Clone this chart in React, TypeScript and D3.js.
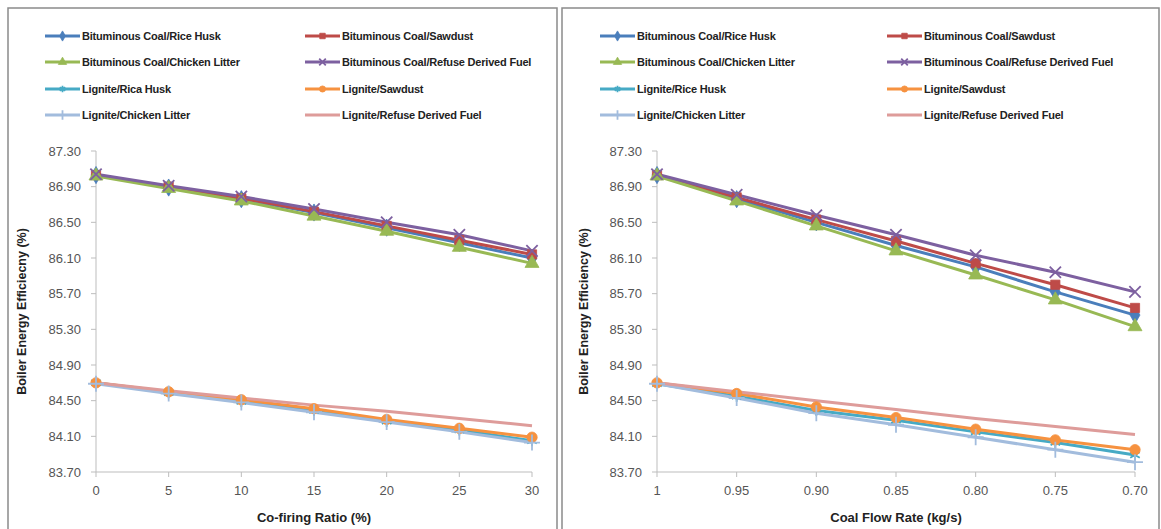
import React from "react";
import * as d3 from "d3";

const seriesNames = [
  "Bituminous Coal/Rice Husk",
  "Bituminous Coal/Sawdust",
  "Bituminous Coal/Chicken Litter",
  "Bituminous Coal/Refuse Derived Fuel",
  "Lignite/Rice Husk",
  "Lignite/Sawdust",
  "Lignite/Chicken Litter",
  "Lignite/Refuse Derived Fuel",
];
const legendNamesLeft = [
  "Bituminous Coal/Rice Husk",
  "Bituminous Coal/Sawdust",
  "Bituminous Coal/Chicken Litter",
  "Bituminous Coal/Refuse Derived Fuel",
  "Lignite/Rica Husk",
  "Lignite/Sawdust",
  "Lignite/Chicken Litter",
  "Lignite/Refuse Derived Fuel",
];

// Left chart: co-firing ratio
const cofiringRatio = [0, 5, 10, 15, 20, 25, 30];
const leftBcRiceHusk = [87.03, 86.89, 86.76, 86.61, 86.44, 86.27, 86.1];
const leftBcSawdust = [87.03, 86.9, 86.77, 86.62, 86.46, 86.3, 86.14];
const leftBcChicken = [87.02, 86.88, 86.74, 86.57, 86.4, 86.22, 86.04];
const leftBcRdf = [87.04, 86.91, 86.79, 86.65, 86.5, 86.36, 86.18];
const leftLgRiceHusk = [84.7, 84.59, 84.49, 84.39, 84.27, 84.17, 84.05];
const leftLgSawdust = [84.7, 84.6, 84.51, 84.41, 84.29, 84.19, 84.09];
const leftLgChicken = [84.69, 84.58, 84.48, 84.37, 84.26, 84.15, 84.03];
const leftLgRdf = [84.7, 84.61, 84.53, 84.45, 84.38, 84.3, 84.22];

// Right chart: coal flow rate
const coalFlowRate = ["1", "0.95", "0.90", "0.85", "0.80", "0.75", "0.70"];
const rightBcRiceHusk = [87.03, 86.76, 86.5, 86.24, 86.0, 85.72, 85.46];
const rightBcSawdust = [87.03, 86.78, 86.53, 86.29, 86.04, 85.8, 85.54];
const rightBcChicken = [87.02, 86.74, 86.46, 86.18, 85.91, 85.63, 85.33];
const rightBcRdf = [87.04, 86.81, 86.58, 86.36, 86.13, 85.94, 85.72];
const rightLgRiceHusk = [84.69, 84.55, 84.39, 84.28, 84.15, 84.03, 83.89];
const rightLgSawdust = [84.7, 84.58, 84.43, 84.31, 84.18, 84.06, 83.95];
const rightLgChicken = [84.69, 84.53, 84.36, 84.23, 84.09, 83.95, 83.81];
const rightLgRdf = [84.7, 84.6, 84.5, 84.4, 84.3, 84.21, 84.12];

const yTicks = [83.7, 84.1, 84.5, 84.9, 85.3, 85.7, 86.1, 86.5, 86.9, 87.3];

const colors = ["#4A7EBB", "#BE4B48", "#98B954", "#7D60A0", "#46AAC5", "#F69240", "#A2BCDD", "#DE9C9A"];
const symbols: (d3.SymbolType | null)[] = [
  d3.symbolDiamond,
  d3.symbolSquare,
  d3.symbolTriangle,
  d3.symbolTimes,
  d3.symbolAsterisk,
  d3.symbolCircle,
  d3.symbolPlus,
  null,
];
const filled = [true, true, true, false, false, true, false, false];

const FONT = "'Liberation Sans', Arial, sans-serif";

function Marker({ i, x, y, size }: { i: number; x: number; y: number; size: number }) {
  const s = symbols[i];
  if (!s) return null;
  const path = d3.symbol(s, size)() || "";
  return (
    <path
      d={path}
      transform={`translate(${x},${y})`}
      fill={filled[i] ? colors[i] : "none"}
      stroke={colors[i]}
      strokeWidth={filled[i] ? 0.8 : 1.8}
    />
  );
}

function Legend({ x1, x2, names }: { x1: number; x2: number; names: string[] }) {
  const rows = [36, 62, 89, 115];
  return (
    <g>
      {names.map((n, i) => {
        const col = i % 2;
        const row = Math.floor(i / 2);
        const lx = col === 0 ? x1 : x2;
        const y = rows[row];
        return (
          <g key={i}>
            <line x1={lx} x2={lx + 35} y1={y} y2={y} stroke={colors[i]} strokeWidth={3} />
            <Marker i={i} x={lx + 17.5} y={y} size={30} />
            <text x={lx + 37} y={y + 4} fontFamily={FONT} fontSize={11} fontWeight={700} fill="#222" letterSpacing={-0.2}>
              {n}
            </text>
          </g>
        );
      })}
    </g>
  );
}

function Panel({
  px,
  pw,
  xPos,
  xLabels,
  data,
  legendX1,
  legendX2,
  legendNames,
  yTitle,
  yTitleX,
  xTitle,
}: {
  px: number;
  pw: number;
  xPos: number[];
  xLabels: string[];
  data: number[][];
  legendX1: number;
  legendX2: number;
  legendNames: string[];
  yTitle: string;
  yTitleX: number;
  xTitle: string;
}) {
  const y = d3.scaleLinear().domain([83.7, 87.3]).range([472, 151]);
  const axisX = xPos[0];
  const axisEnd = xPos[xPos.length - 1];
  const line = d3
    .line<number>()
    .x((_, i) => xPos[i])
    .y((v) => y(v));
  return (
    <g>
      <rect x={px} y={8} width={pw} height={540} fill="#fff" stroke="#8a8a8a" strokeWidth={1.5} />
      <Legend x1={legendX1} x2={legendX2} names={legendNames} />
      {/* y axis */}
      <line x1={axisX} x2={axisX} y1={y(87.3)} y2={y(83.7)} stroke="#bdbdbd" strokeWidth={1} />
      {yTicks.map((t) => (
        <g key={t}>
          <line x1={axisX - 5} x2={axisX} y1={y(t)} y2={y(t)} stroke="#bdbdbd" />
          <text x={axisX - 15} y={y(t) + 4.5} textAnchor="end" fontFamily={FONT} fontSize={13} fill="#555">
            {t.toFixed(2)}
          </text>
        </g>
      ))}
      {/* x axis */}
      <line x1={axisX} x2={axisEnd} y1={y(83.7)} y2={y(83.7)} stroke="#bdbdbd" />
      {xPos.map((xp, i) => (
        <g key={i}>
          <line x1={xp} x2={xp} y1={y(83.7)} y2={y(83.7) + 5} stroke="#bdbdbd" />
          <text x={xp} y={495} textAnchor="middle" fontFamily={FONT} fontSize={13} fill="#555">
            {xLabels[i]}
          </text>
        </g>
      ))}
      <text
        x={(axisX + axisEnd) / 2}
        y={522}
        textAnchor="middle"
        fontFamily={FONT}
        fontSize={13}
        fontWeight={700}
        fill="#222"
      >
        {xTitle}
      </text>
      <text
        transform={`translate(${yTitleX},${(y(87.3) + y(83.7)) / 2}) rotate(-90)`}
        textAnchor="middle"
        fontFamily={FONT}
        fontSize={12.5}
        fontWeight={700}
        fill="#222"
      >
        {yTitle}
      </text>
      {data.map((s, i) => (
        <path key={i} d={line(s) || ""} fill="none" stroke={colors[i]} strokeWidth={3} />
      ))}
      {data.map((s, i) => (
        <g key={"m" + i}>
          {s.map((v, j) => (
            <Marker key={j} i={i} x={xPos[j]} y={y(v)} size={85} />
          ))}
        </g>
      ))}
    </g>
  );
}

export default function App() {
  const xLeft = d3.scaleLinear().domain([0, 30]).range([96, 532]);
  const xRight = d3.scalePoint<string>().domain(coalFlowRate).range([657, 1135]);
  const leftData = [
    leftBcRiceHusk,
    leftBcSawdust,
    leftBcChicken,
    leftBcRdf,
    leftLgRiceHusk,
    leftLgSawdust,
    leftLgChicken,
    leftLgRdf,
  ];
  const rightData = [
    rightBcRiceHusk,
    rightBcSawdust,
    rightBcChicken,
    rightBcRdf,
    rightLgRiceHusk,
    rightLgSawdust,
    rightLgChicken,
    rightLgRdf,
  ];
  return (
    <svg
      width={1161}
      height={529}
      style={{ position: "absolute", left: 0, top: 0, background: "#fff" }}
    >
      <rect x={0} y={0} width={1161} height={529} fill="#fff" />
      <Panel
        px={8}
        pw={549}
        xPos={cofiringRatio.map((v) => xLeft(v))}
        xLabels={cofiringRatio.map(String)}
        data={leftData}
        legendX1={45}
        legendX2={305}
        legendNames={legendNamesLeft}
        yTitle="Boiler Energy Efficiecny (%)"
        yTitleX={26}
        xTitle="Co-firing Ratio (%)"
      />
      <Panel
        px={562}
        pw={597}
        xPos={coalFlowRate.map((c) => xRight(c) as number)}
        xLabels={coalFlowRate}
        data={rightData}
        legendX1={600}
        legendX2={887}
        legendNames={seriesNames}
        yTitle="Boiler Energy Efficiency (%)"
        yTitleX={588}
        xTitle="Coal Flow Rate (kg/s)"
      />
    </svg>
  );
}
